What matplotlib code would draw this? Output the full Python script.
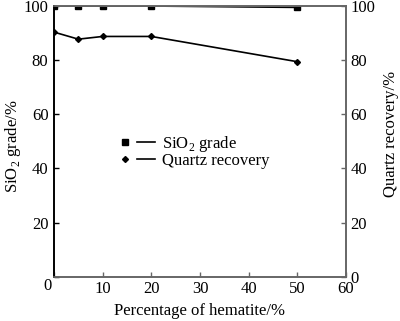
import matplotlib
matplotlib.use("Agg")
import matplotlib.pyplot as plt
from matplotlib.lines import Line2D

plt.rcParams['font.family'] = ['Liberation Serif', 'DejaVu Serif']
plt.rcParams['mathtext.fontset'] = 'custom'
plt.rcParams['mathtext.rm'] = 'Liberation Serif'

hematite = [0, 5, 10, 20, 50]
sio2_grade = [99.9, 99.8, 99.8, 99.8, 99.3]
quartz_recovery = [90.2, 87.6, 88.6, 88.6, 79.3]

x_ticks = [0, 10, 20, 30, 40, 50, 60]
x_labels = ['', '10', '20', '30', '40', '50', '60']
y_ticks = [0, 20, 40, 60, 80, 100]
y_labels_left = ['', '20', '40', '60', '80', '100']
y_labels_right = ['0', '20', '40', '60', '80', '100']

FS = 12

fig = plt.figure(figsize=(4.0, 3.21), dpi=100)
ax = fig.add_axes([54/400, 1 - 277/321, (346-54)/400, (277-5.5)/321])
ax2 = ax.twinx()

ax.plot(hematite, sio2_grade, color='black', lw=1.2, marker='s', ms=4.5)
ax2.plot(hematite, quartz_recovery, color='black', lw=1.2, marker='D', ms=3)

for a in (ax, ax2):
    a.set_xlim(0, 60)
    a.set_ylim(0, 100)
    a.set_yticks(y_ticks)

ax.set_xticks(x_ticks)
ax.set_xticklabels(x_labels)
ax.set_yticklabels(y_labels_left)
ax2.set_yticklabels(y_labels_right)
ax.tick_params(axis='both', direction='in', labelsize=FS, length=3.5, width=1, pad=4)
ax.tick_params(axis='x', colors='#666666', labelcolor='black', pad=3)
ax.tick_params(axis='y', colors='black')
ax2.tick_params(axis='y', direction='in', labelsize=FS, length=3.5, width=1,
                colors='#666666', labelcolor='black', pad=3)

# shared origin label at the lower-left corner
ax.annotate('0', xy=(0, 0), xytext=(-1.5, -0.5), textcoords='offset points',
            ha='right', va='top', fontsize=FS)

for a in (ax, ax2):
    a.spines['left'].set_color('black')
    a.spines['bottom'].set_color('#666666')
    a.spines['right'].set_color('#666666')
    a.spines['top'].set_color('#666666')
    for s in a.spines.values():
        s.set_linewidth(1.2)

ax.set_xlabel('Percentage of hematite/%', fontsize=FS, labelpad=4)
ax.set_ylabel('SiO$_2$ grade/%', fontsize=FS)
ax2.set_ylabel('Quartz recovery/%', fontsize=FS)
ax.yaxis.set_label_coords(-0.106, 0.483)
ax2.yaxis.set_label_coords(1.127, 0.527)

handles = [
    Line2D([], [], color='black', lw=1.2),
    Line2D([], [], color='black', lw=1.2),
]
leg = ax.legend(handles, ['SiO$_2$ grade', 'Quartz recovery'], loc='upper left',
                bbox_to_anchor=((137 - 54) / 292, (277 - 133.5) / 271.5), frameon=False,
                fontsize=FS, handlelength=1.05, handletextpad=0.45, labelspacing=-0.04,
                borderaxespad=0, borderpad=0)
fig.canvas.draw()
renderer = fig.canvas.get_renderer()
inv = ax.transData.inverted()
for h, mk, ms in zip(leg.legend_handles, ['s', 'D'], [4.5, 3]):
    bb = h.get_window_extent(renderer)
    xm, ym = bb.x0 - 12, (bb.y0 + bb.y1) / 2
    dx, dy = inv.transform((xm, ym))
    ax.plot([dx], [dy], marker=mk, ms=ms, color='black', clip_on=False)

fig.savefig('out.png', dpi=100)
